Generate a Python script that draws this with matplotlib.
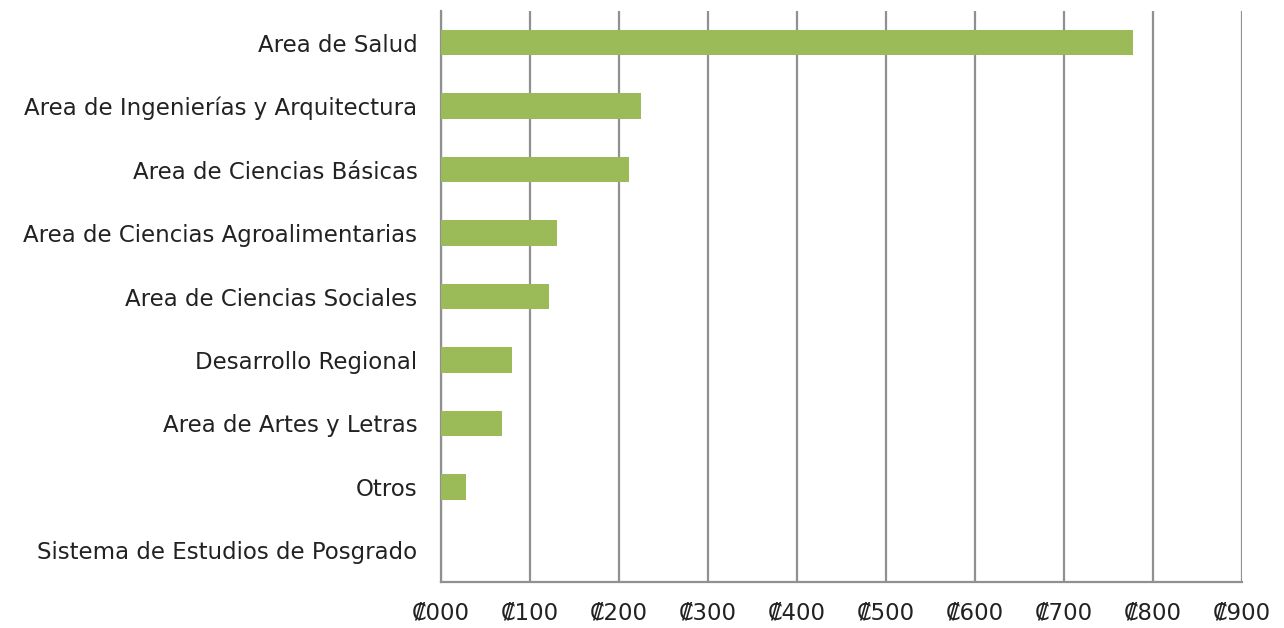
import matplotlib
matplotlib.use("Agg")
import matplotlib.pyplot as plt
import numpy as np

categories = [
    "Area de Salud",
    "Area de Ingenierías y Arquitectura",
    "Area de Ciencias Básicas",
    "Area de Ciencias Agroalimentarias",
    "Area de Ciencias Sociales",
    "Desarrollo Regional",
    "Area de Artes y Letras",
    "Otros",
    "Sistema de Estudios de Posgrado",
]
values = [777, 225, 211, 130, 121, 80, 69, 28, 0]
xticks = [0, 100, 200, 300, 400, 500, 600, 700, 800, 900]
xlabels = ["₡000", "₡100", "₡200", "₡300", "₡400", "₡500", "₡600", "₡700", "₡800", "₡900"]

plt.rcParams["font.family"] = ["DejaVu Sans"]

fig = plt.figure(figsize=(12.84, 6.28), dpi=100)
ax = fig.add_axes([0.3435, 0.0732, 0.9673 - 0.3435, 0.9825 - 0.0732])

y = np.arange(len(categories))
ax.barh(y, values, height=0.4, color="#9BBB59", zorder=3)
ax.set_ylim(len(categories) - 0.5, -0.5)
ax.set_xlim(0, 900)
ax.set_yticks(y)
ax.set_yticklabels(categories, fontsize=16.5, color="#222222", va="center_baseline")
ax.set_xticks(xticks)
ax.set_xticklabels(xlabels, fontsize=16.5, color="#222222")
ax.tick_params(axis="y", length=0, pad=17)
ax.tick_params(axis="x", length=0, pad=14)

ax.grid(axis="x", color="#909090", linewidth=1.6, zorder=0)
for s in ["top", "right"]:
    ax.spines[s].set_visible(False)
for s in ["left", "bottom"]:
    ax.spines[s].set_color("#909090")
    ax.spines[s].set_linewidth(1.6)

fig.savefig("out.png", dpi=100)
